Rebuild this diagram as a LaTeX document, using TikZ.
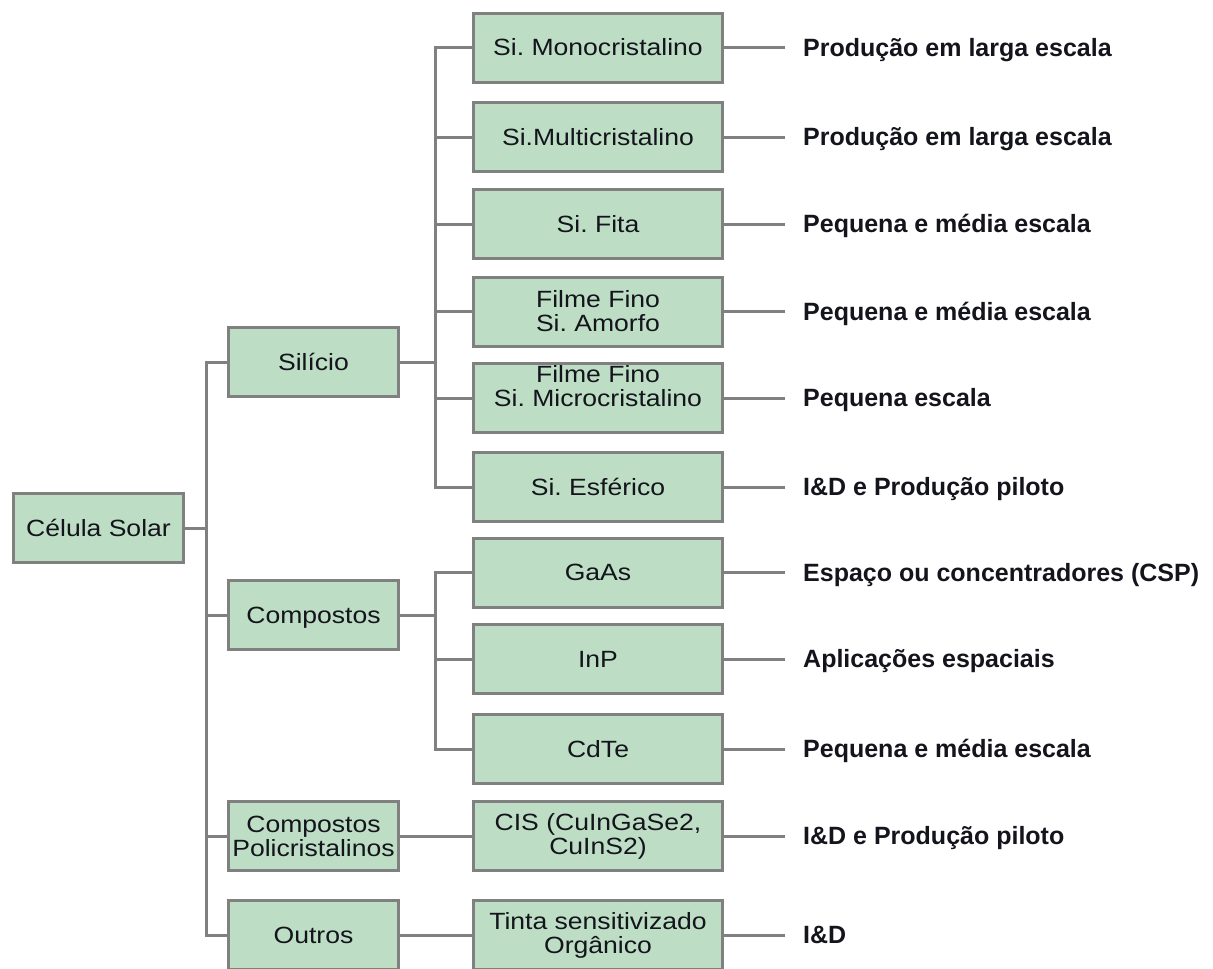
\documentclass[tikz,border=0pt]{standalone}
\usepackage{fontspec}
\setmainfont{Liberation Sans}
\newfontfamily\boxfont[FakeStretch=1.13]{Liberation Sans}
\newfontfamily\labfont{Liberation Sans}
\definecolor{boxfill}{RGB}{189,222,196}
\definecolor{boxline}{RGB}{128,128,128}
\definecolor{txtcol}{RGB}{20,20,28}
\frenchspacing
\begin{document}
\begin{tikzpicture}[x=1pt,y=-1pt,
  box/.style={draw=boxline, fill=boxfill, line width=3pt, inner sep=0pt,
    minimum height=69pt, align=center, text=txtcol,
    font=\boxfont\fontsize{23.5}{24}\selectfont},
  one/.style={text height=16.8pt, text depth=0pt},
  lvlzero/.style={box, minimum width=170pt},
  lvlone/.style={box, minimum width=170pt},
  lvltwo/.style={box, minimum width=249pt},
  plaintxt/.style={inner sep=0pt, align=center, text=txtcol,
    font=\boxfont\fontsize{23.5}{24}\selectfont},
  lab/.style={anchor=west, inner xsep=18pt, inner ysep=0pt, text=txtcol,
    text height=17.8pt, text depth=0pt,
    font=\labfont\bfseries\fontsize{25}{26}\selectfont},
  conn/.style={draw=boxline, line width=3pt}
]
\useasboundingbox (0,0) rectangle (1213,969);

% level 0
\node[lvlzero, one] (cel) at (98.5,528) {Célula Solar};

% level 1
\node[lvlone, one] (sil) at (313.5,362) {Silício};
\node[lvlone, one] (comp) at (313.5,615) {Compostos};
\node[lvlone] (cpoli) at (313.5,836) {Compostos\\Policristalinos};
\node[lvlone, one] (out) at (313.5,935) {Outros};

% level 2
\node[lvltwo, one] (mono) at (598,47.5) {Si. Monocristalino};
\node[lvltwo, one] (multi) at (598,137) {Si.Multicristalino};
\node[lvltwo, one] (fita) at (598,224) {Si. Fita};
\node[lvltwo] (amorfo) at (598,311.5) {Filme Fino\\Si. Amorfo};
\node[lvltwo] (micro) at (598,398) {};
\node[plaintxt] (microtxt) at (598,386) {Filme Fino\\Si. Microcristalino};
\node[lvltwo, one] (esf) at (598,487) {Si. Esférico};
\node[lvltwo, one] (gaas) at (598,572.5) {GaAs};
\node[lvltwo, one] (inp) at (598,659) {InP};
\node[lvltwo, one] (cdte) at (598,749) {CdTe};
\node[lvltwo] (cis) at (598,836) {CIS (CuInGaSe2,\\CuInS2)};
\node[lvltwo] (tinta) at (598,935) {Tinta sensitivizado\\Orgânico};

% labels
\node[lab] (lmono) at (785,47.5) {Produção em larga escala};
\node[lab] (lmulti) at (785,137) {Produção em larga escala};
\node[lab] (lfita) at (785,224) {Pequena e média escala};
\node[lab] (lamorfo) at (785,311.5) {Pequena e média escala};
\node[lab] (lmicro) at (785,398) {Pequena escala};
\node[lab] (lesf) at (785,487) {I\&D e Produção piloto};
\node[lab] (lgaas) at (785,572.5) {Espaço ou concentradores (CSP)};
\node[lab] (linp) at (785,659) {Aplicações espaciais};
\node[lab] (lcdte) at (785,749) {Pequena e média escala};
\node[lab] (lcis) at (785,836) {I\&D e Produção piloto};
\node[lab] (ltinta) at (785,935) {I\&D};

% junction points
\coordinate (t0) at (206,528);
\coordinate (t1) at (435,362);
\coordinate (t2) at (435,615);

% connectors
\begin{scope}[conn]
\draw (cel.east) -- (t0);
\draw (sil.west) -| (t0);
\draw (comp.west) -| (t0);
\draw (cpoli.west) -| (t0);
\draw (out.west) -| (t0);

\draw (sil.east) -- (t1);
\foreach \n in {mono,multi,fita,amorfo,micro,esf} \draw (\n.west) -| (t1);

\draw (comp.east) -- (t2);
\foreach \n in {gaas,inp,cdte} \draw (\n.west) -| (t2);

\draw (cpoli.east) -- (cis.west);
\draw (out.east) -- (tinta.west);

\draw (mono.east) -- (lmono.west);
\draw (multi.east) -- (lmulti.west);
\draw (fita.east) -- (lfita.west);
\draw (amorfo.east) -- (lamorfo.west);
\draw (micro.east) -- (lmicro.west);
\draw (esf.east) -- (lesf.west);
\draw (gaas.east) -- (lgaas.west);
\draw (inp.east) -- (linp.west);
\draw (cdte.east) -- (lcdte.west);
\draw (cis.east) -- (lcis.west);
\draw (tinta.east) -- (ltinta.west);
\end{scope}
\end{tikzpicture}
\end{document}
